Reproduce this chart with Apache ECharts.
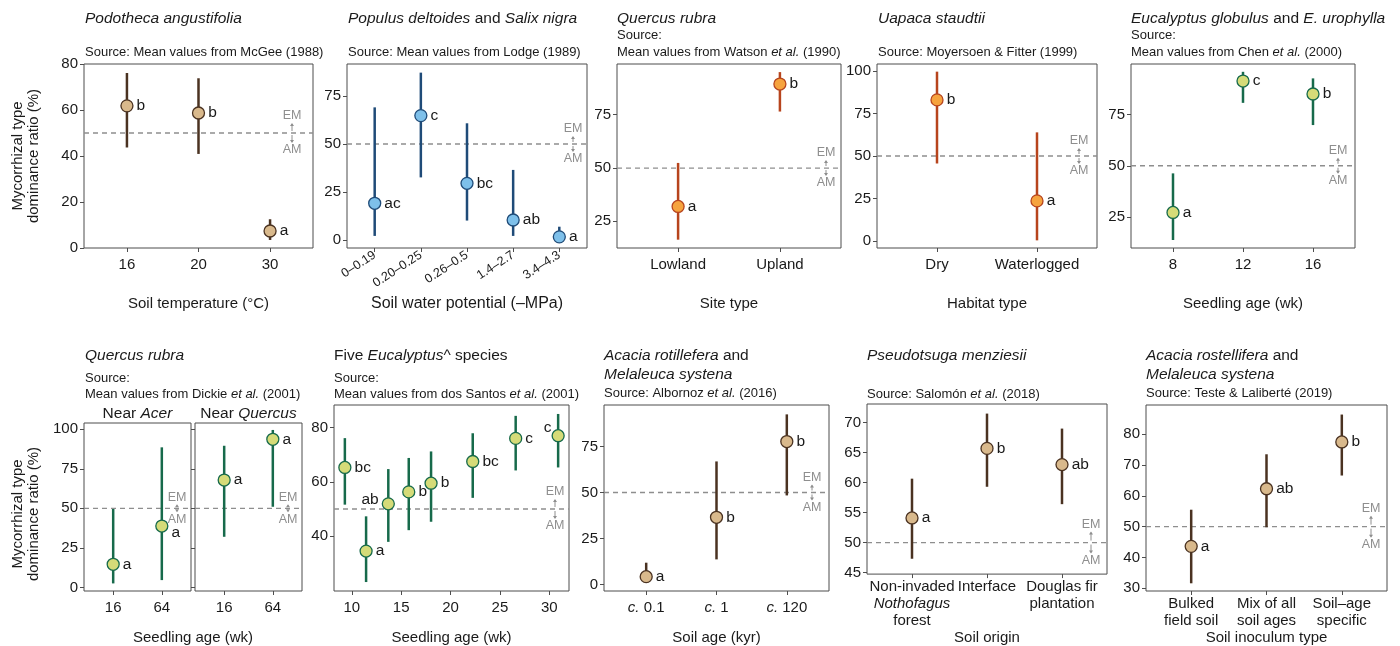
<!DOCTYPE html>
<html>
<head>
<meta charset="utf-8">
<script src="https://cdn.jsdelivr.net/npm/echarts@6/dist/echarts.min.js"></script>
<style>
  html, body { margin: 0; padding: 0; background: #fff; }
  #chart { width: 1400px; height: 646px; }
</style>
</head>
<body>
<div id="chart"></div>
<script>
// ---- data ----
// Podotheca angustifolia (McGee 1988)
const cats1 = ['16', '20', '30'];
const mean1 = [61.8, 58.7, 7.4];
const lo1 = [43.7, 40.9, 3.5];
const hi1 = [76.1, 73.8, 12.5];
const let1 = ['b', 'b', 'a'];
const yt1 = [0, 20, 40, 60, 80];

// Populus deltoides and Salix nigra (Lodge 1989)
const cats2 = ['0–0.19', '0.20–0.25', '0.26–0.5', '1.4–2.7', '3.4–4.3'];
const mean2 = [19.1, 64.8, 29.5, 10.4, 1.6];
const lo2 = [2.1, 32.6, 10.1, 2.1, 0.3];
const hi2 = [69.1, 87.2, 60.8, 36.5, 6.9];
const let2 = ['ac', 'c', 'bc', 'ab', 'a'];
const yt2 = [0, 25, 50, 75];

// Quercus rubra (Watson et al. 1990)
const cats3 = ['Lowland', 'Upland'];
const mean3 = [32.0, 89.4];
const lo3 = [16.4, 76.5];
const hi3 = [52.4, 95.0];
const let3 = ['a', 'b'];
const yt3 = [25, 50, 75];

// Uapaca staudtii (Moyersoen & Fitter 1999)
const cats4 = ['Dry', 'Waterlogged'];
const mean4 = [83.0, 23.6];
const lo4 = [45.6, 0.4];
const hi4 = [99.6, 63.9];
const let4 = ['b', 'a'];
const yt4 = [0, 25, 50, 75, 100];

// Eucalyptus globulus and E. urophylla (Chen et al. 2000)
const cats5 = ['8', '12', '16'];
const mean5 = [27.3, 91.2, 84.9];
const lo5 = [13.9, 80.6, 69.8];
const hi5 = [46.3, 95.7, 92.5];
const let5 = ['a', 'c', 'b'];
const yt5 = [25, 50, 75];

// Quercus rubra (Dickie et al. 2001), two facets
const cats6 = ['16', '64'];
const acerMean = [14.6, 38.8];
const acerLo = [2.5, 4.6];
const acerHi = [49.6, 88.6];
const acerLet = ['a', 'a'];
const quercusMean = [67.9, 93.7];
const quercusLo = [32.0, 51.0];
const quercusHi = [89.6, 99.6];
const quercusLet = ['a', 'a'];
const yt6 = [0, 25, 50, 75, 100];

// Five Eucalyptus species (dos Santos et al. 2001)
const age7 = [9.3, 11.45, 13.7, 15.77, 18.03, 22.25, 26.6, 30.9];
const mean7 = [65.3, 34.5, 51.9, 56.3, 59.5, 67.5, 76.0, 77.0];
const lo7 = [51.6, 23.1, 37.9, 42.2, 45.3, 54.1, 64.2, 65.3];
const hi7 = [76.1, 47.3, 64.7, 68.8, 71.2, 77.9, 84.3, 85.0];
const let7 = ['bc', 'a', 'ab', 'b', 'b', 'bc', 'c', 'c'];
const xt7 = [10, 15, 20, 25, 30];
const yt7 = [40, 60, 80];

// Acacia rotillefera and Melaleuca systena (Albornoz et al. 2016)
const cats8 = ['{i|c.} 0.1', '{i|c.} 1', '{i|c.} 120'];
const mean8 = [4.2, 36.5, 77.7];
const lo8 = [1.8, 13.6, 48.4];
const hi8 = [11.8, 66.9, 92.5];
const let8 = ['a', 'b', 'b'];
const yt8 = [0, 25, 50, 75];

// Pseudotsuga menziesii (Salomon et al. 2018)
const cats9 = ['Non-invaded\n{i|Nothofagus}\nforest', 'Interface', 'Douglas fir\nplantation'];
const mean9 = [54.1, 65.7, 63.0];
const lo9 = [47.3, 59.3, 56.4];
const hi9 = [60.65, 71.5, 69.0];
const let9 = ['a', 'b', 'ab'];
const yt9 = [45, 50, 55, 60, 65, 70];

// Acacia rostellifera and Melaleuca systena (Teste & Laliberte 2019)
const cats10 = ['Bulked\nfield soil', 'Mix of all\nsoil ages', 'Soil–age\nspecific'];
const mean10 = [43.6, 62.3, 77.5];
const lo10 = [31.6, 49.8, 66.6];
const hi10 = [55.5, 73.5, 86.4];
const let10 = ['a', 'ab', 'b'];
const yt10 = [30, 40, 50, 60, 70, 80];

// ---- styling ----
const FONT = '"Liberation Sans", Arial, Helvetica, sans-serif';
const TXT = '#1a1a1a';
const BOX = '#4d4d4d';
const GREY = '#8e8e8e';
const COL = {
  brown: { line: '#4a3221', fill: '#d9b98c' },
  blue: { line: '#1f4b78', fill: '#7ec0ea' },
  orange: { line: '#b7441d', fill: '#f6a33e' },
  green: { line: '#176a4b', fill: '#d5db78' }
};
const ital = (size, lh) => ({ fontStyle: 'italic', fontSize: size, fontFamily: FONT, color: TXT, lineHeight: lh });

const panels = [
  { box: [84, 64, 229, 184], cats: cats1, mean: mean1, lo: lo1, hi: hi1, letters: let1, y: [0, 80], yTicks: yt1,
    col: 'brown', xName: 'Soil temperature (°C)', nameGap: 48, emOff: 21, emGap: 17 },
  { box: [347, 64, 240, 184], cats: cats2, mean: mean2, lo: lo2, hi: hi2, letters: let2, y: [-4.2, 91.7], yTicks: yt2,
    col: 'blue', xName: 'Soil water potential (–MPa)', nameGap: 48, nameSize: 16, rotate: 33, xFont: 12.5, xMargin: 6, emOff: 14 },
  { box: [617, 64, 224, 184], cats: cats3, mean: mean3, lo: lo3, hi: hi3, letters: let3, y: [12.5, 98.8], yTicks: yt3,
    col: 'orange', xName: 'Site type', nameGap: 48, emOff: 15 },
  { box: [877, 64, 220, 184], cats: cats4, mean: mean4, lo: lo4, hi: hi4, letters: let4, y: [-4.1, 104.1], yTicks: yt4,
    col: 'orange', xName: 'Habitat type', nameGap: 48, emOff: 18 },
  { box: [1131, 64, 224, 184], cats: cats5, mean: mean5, lo: lo5, hi: hi5, letters: let5, y: [10, 99.5], yTicks: yt5,
    col: 'green', xName: 'Seedling age (wk)', nameGap: 48, emOff: 17 },
  { box: [84, 423, 107, 168], cats: cats6, mean: acerMean, lo: acerLo, hi: acerHi, letters: acerLet, y: [-2.3, 104], yTicks: yt6,
    col: 'green', emOff: 14, emGap: 11, labelAdj: { 1: { offset: [0, 7] } } },
  { box: [195, 423, 107, 168], cats: cats6, mean: quercusMean, lo: quercusLo, hi: quercusHi, letters: quercusLet, y: [-2.3, 104], yTicks: yt6,
    col: 'green', emOff: 14, emGap: 11, noYLabels: true },
  { box: [334, 405, 235, 186], xVals: age7, xTicks: xt7, xRange: [8.2, 32], mean: mean7, lo: lo7, hi: hi7, letters: let7, y: [19.8, 88.3], yTicks: yt7,
    col: 'green', xName: 'Seedling age (wk)', nameGap: 39, emOff: 14, emGap: 17,
    labelAdj: { 2: { position: 'left', offset: [0, -4] }, 7: { position: 'left', offset: [3, -8] } } },
  { box: [604, 405, 225, 186], cats: cats8, mean: mean8, lo: lo8, hi: hi8, letters: let8, y: [-3.6, 97.6], yTicks: yt8,
    col: 'brown', xName: 'Soil age (kyr)', nameGap: 39, emOff: 17 },
  { box: [867, 404, 240, 187], cats: cats9, mean: mean9, lo: lo9, hi: hi9, letters: let9, y: [44.74, 73.1], yTicks: yt9,
    col: 'brown', xName: 'Soil origin', nameGap: 39, xMargin: 4, emOff: 16, emGap: 18 },
  { box: [1146, 405, 241, 186], cats: cats10, mean: mean10, lo: lo10, hi: hi10, letters: let10, y: [29.1, 89.5], yTicks: yt10,
    col: 'brown', xName: 'Soil inoculum type', nameGap: 39, xMargin: 4, emOff: 16, emGap: 18 }
];

const titles = [
  { t: '{i|Podotheca angustifolia}', x: 85, y: 10, lh: 18 },
  { t: '{i|Populus deltoides} and {i|Salix nigra}', x: 348, y: 10, lh: 18 },
  { t: '{i|Quercus rubra}', x: 617, y: 10, lh: 18 },
  { t: '{i|Uapaca staudtii}', x: 878, y: 10, lh: 18 },
  { t: '{i|Eucalyptus globulus} and {i|E. urophylla}', x: 1131, y: 10, lh: 18 },
  { t: '{i|Quercus rubra}', x: 85, y: 347, lh: 18 },
  { t: 'Five {i|Eucalyptus}^ species', x: 334, y: 347, lh: 18 },
  { t: '{i|Acacia rotillefera} and\n{i|Melaleuca systena}', x: 604, y: 346.5, lh: 19 },
  { t: '{i|Pseudotsuga menziesii}', x: 867, y: 347, lh: 18 },
  { t: '{i|Acacia rostellifera} and\n{i|Melaleuca systena}', x: 1146, y: 346.5, lh: 19 }
];
const subtitles = [
  { t: 'Source: Mean values from McGee (1988)', x: 85, y: 44, lh: 16 },
  { t: 'Source: Mean values from Lodge (1989)', x: 348, y: 44, lh: 16 },
  { t: 'Source:\nMean values from Watson {i|et al.} (1990)', x: 617, y: 26.5, lh: 17 },
  { t: 'Source: Moyersoen & Fitter (1999)', x: 878, y: 44, lh: 16 },
  { t: 'Source:\nMean values from Chen {i|et al.} (2000)', x: 1131, y: 26.5, lh: 17 },
  { t: 'Source:\nMean values from Dickie {i|et al.} (2001)', x: 85, y: 370, lh: 16 },
  { t: 'Source:\nMean values from dos Santos {i|et al.} (2001)', x: 334, y: 370, lh: 16 },
  { t: 'Source: Albornoz {i|et al.} (2016)', x: 604, y: 385, lh: 16 },
  { t: 'Source: Salomón {i|et al.} (2018)', x: 867, y: 386, lh: 16 },
  { t: 'Source: Teste & Laliberté (2019)', x: 1146, y: 385, lh: 16 }
];

const option = {
  animation: false,
  backgroundColor: '#fff',
  title: [],
  grid: [],
  xAxis: [],
  yAxis: [],
  series: [],
  graphic: []
};

titles.forEach(d => option.title.push({
  text: d.t, left: d.x, top: d.y, padding: 0,
  textStyle: { fontSize: 15.5, fontWeight: 'normal', fontFamily: FONT, color: TXT, lineHeight: d.lh, rich: { i: ital(15.5, d.lh) } }
}));
subtitles.forEach(d => option.title.push({
  text: d.t, left: d.x, top: d.y, padding: 0,
  textStyle: { fontSize: 13, fontWeight: 'normal', fontFamily: FONT, color: TXT, lineHeight: d.lh, rich: { i: ital(13, d.lh) } }
}));

panels.forEach((p, i) => {
  const c = COL[p.col];
  const xs = p.xVals || p.cats.map((_, k) => k + 1);
  const n = xs.length;
  const ticksX = p.xTicks || xs;
  const xMin = p.xRange ? p.xRange[0] : 0.4;
  const xMax = p.xRange ? p.xRange[1] : n + 0.6;
  const xFont = p.xFont || 15;

  option.grid.push({
    left: p.box[0], top: p.box[1], width: p.box[2], height: p.box[3],
    show: true, borderColor: BOX, borderWidth: 1, backgroundColor: 'transparent'
  });

  option.xAxis.push({
    type: 'value', gridIndex: i, min: xMin, max: xMax,
    axisLine: { show: false, onZero: false },
    axisTick: { show: true, length: 4, lineStyle: { color: BOX }, customValues: ticksX },
    splitLine: { show: false },
    axisLabel: {
      customValues: ticksX,
      formatter: p.cats ? (v => p.cats[Math.round(v) - 1]) : (v => String(v)),
      margin: p.xMargin !== undefined ? p.xMargin : 8,
      rotate: p.rotate || 0,
      fontSize: xFont, fontFamily: FONT, color: TXT, lineHeight: 17,
      rich: { i: ital(xFont, 17) }
    },
    name: p.xName || '', nameLocation: 'middle', nameGap: p.nameGap || 40,
    nameTextStyle: { fontSize: p.nameSize || 15, fontFamily: FONT, color: TXT }
  });

  option.yAxis.push({
    type: 'value', gridIndex: i, min: p.y[0], max: p.y[1],
    axisLine: { show: false, onZero: false },
    axisTick: { show: true, length: 4, lineStyle: { color: BOX }, customValues: p.yTicks },
    splitLine: { show: false },
    axisLabel: {
      show: !p.noYLabels,
      customValues: p.yTicks, margin: 6,
      fontSize: 15, fontFamily: FONT, color: TXT
    }
  });

  // reference line at 50 with EM / AM note
  option.series.push({
    type: 'custom', xAxisIndex: i, yAxisIndex: i, silent: true, z: 1,
    data: [[xMin, 50]],
    renderItem: (params, api) => {
      const cs = params.coordSys;
      const y = api.coord([api.value(0), api.value(1)])[1];
      const ex = cs.x + cs.width - p.emOff;
      const g = p.emGap || 15;
      const a = Math.max(g - 8, 2.5);
      const txt = (s, yy) => ({
        type: 'text',
        style: { text: s, x: ex, y: yy, font: '12.5px ' + FONT, fill: GREY,
          textAlign: 'center', textVerticalAlign: 'middle', align: 'center', verticalAlign: 'middle' }
      });
      return {
        type: 'group',
        children: [
          { type: 'line', shape: { x1: cs.x, y1: y, x2: cs.x + cs.width, y2: y },
            style: { stroke: GREY, lineWidth: 1.3, lineDash: [5, 4] } },
          txt('EM', y - g), txt('AM', y + g),
          { type: 'line', shape: { x1: ex, y1: y - 2, x2: ex, y2: y - a }, style: { stroke: GREY, lineWidth: 1 } },
          { type: 'line', shape: { x1: ex, y1: y + 2, x2: ex, y2: y + a }, style: { stroke: GREY, lineWidth: 1 } },
          { type: 'polygon', shape: { points: [[ex - 2, y - a + 2], [ex + 2, y - a + 2], [ex, y - a - 1]] }, style: { fill: GREY } },
          { type: 'polygon', shape: { points: [[ex - 2, y + a - 2], [ex + 2, y + a - 2], [ex, y + a + 1]] }, style: { fill: GREY } }
        ]
      };
    }
  });

  // error bars
  option.series.push({
    type: 'custom', xAxisIndex: i, yAxisIndex: i, silent: true, z: 2,
    data: xs.map((x, k) => [x, p.lo[k], p.hi[k]]),
    encode: { x: 0, y: [1, 2] },
    renderItem: (params, api) => {
      const a = api.coord([api.value(0), api.value(1)]);
      const b = api.coord([api.value(0), api.value(2)]);
      return { type: 'line', shape: { x1: a[0], y1: a[1], x2: b[0], y2: b[1] },
        style: { stroke: c.line, lineWidth: 2.5 } };
    }
  });

  // means with letters
  const adj = p.labelAdj || {};
  option.series.push({
    type: 'scatter', xAxisIndex: i, yAxisIndex: i, z: 3,
    symbol: 'circle', symbolSize: 12,
    itemStyle: { color: c.fill, borderColor: c.line, borderWidth: 1.3, opacity: 1 },
    label: {
      show: true, position: 'right', distance: 3,
      formatter: q => p.letters[q.dataIndex],
      fontSize: 15.5, fontFamily: FONT, color: TXT
    },
    data: xs.map((x, k) => adj[k] ? { value: [x, p.mean[k]], label: adj[k] } : [x, p.mean[k]])
  });
});

// shared texts: y titles, facet strips, faceted x title
const gtext = (x, y, text, size, rot, lh, rich) => ({
  type: 'text', x: x, y: y, rotation: rot || 0, silent: true,
  style: { text: text, font: size + 'px ' + FONT, fill: TXT, lineHeight: lh || size + 2,
    textAlign: 'center', textVerticalAlign: 'middle', align: 'center', verticalAlign: 'middle',
    rich: rich || {} }
});
const yTitle = 'Mycorrhizal type\ndominance ratio (%)';
option.graphic.push(gtext(26, 156, yTitle, 15, Math.PI / 2, 16.5));
option.graphic.push(gtext(26, 514, yTitle, 15, Math.PI / 2, 16.5));
option.graphic.push(gtext(137.5, 414, 'Near {i|Acer}', 15.5, 0, 18, { i: ital(15.5, 18) }));
option.graphic.push(gtext(248.5, 414, 'Near {i|Quercus}', 15.5, 0, 18, { i: ital(15.5, 18) }));
option.graphic.push(gtext(193, 638, 'Seedling age (wk)', 15, 0, 17));

const chart = echarts.init(document.getElementById('chart'));
chart.setOption(option);
window.addEventListener('resize', function () { chart.resize(); });
</script>
</body>
</html>
